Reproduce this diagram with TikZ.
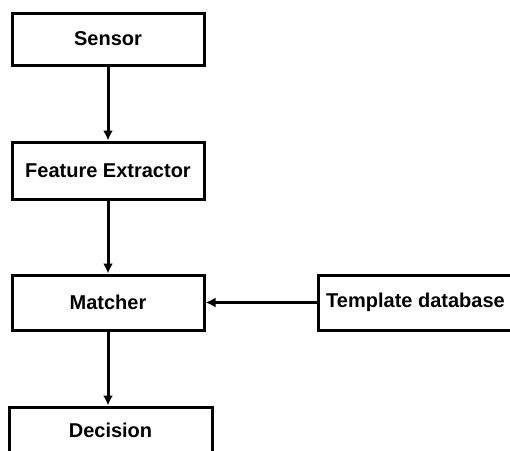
\documentclass[tikz,border=0pt]{standalone}
\usepackage{fontspec}
\setmainfont{Liberation Sans}
\usetikzlibrary{arrows.meta, positioning}

\begin{document}
\begin{tikzpicture}[x=1pt, y=1pt, >={Latex[length=10pt, width=10pt]}, line width=3pt]
	\tikzstyle{block} = [draw=black, rectangle, inner sep=0pt, font=\fontsize{20}{24}\selectfont\bfseries]

	\useasboundingbox (0, 0) rectangle (510, -450);

	\node[block, minimum width=192pt, minimum height=52pt] 	at (108, -39)		(sensor)	{Sensor};
	\node[block, minimum width=192pt, minimum height=57pt] 	at (108, -170.5)	(extractor)	{Feature Extractor};
	\node[block, minimum width=192pt, minimum height=55pt] 	at (108, -302.5)	(matcher)	{Matcher};
	\node[block, minimum width=195pt, minimum height=55pt] 	at (415.5, -302.5)	(template)	{Template database};
	\node[block, minimum width=203pt, minimum height=46pt] 	at (110.5, -430)	(decision)	{Decision};

	\path[->]
	(sensor)	edge	(extractor)
	(extractor)	edge	(matcher)
	(template)	edge	(matcher)
	(matcher.south)	edge	(matcher.south |- decision.north);
\end{tikzpicture}
\end{document}
